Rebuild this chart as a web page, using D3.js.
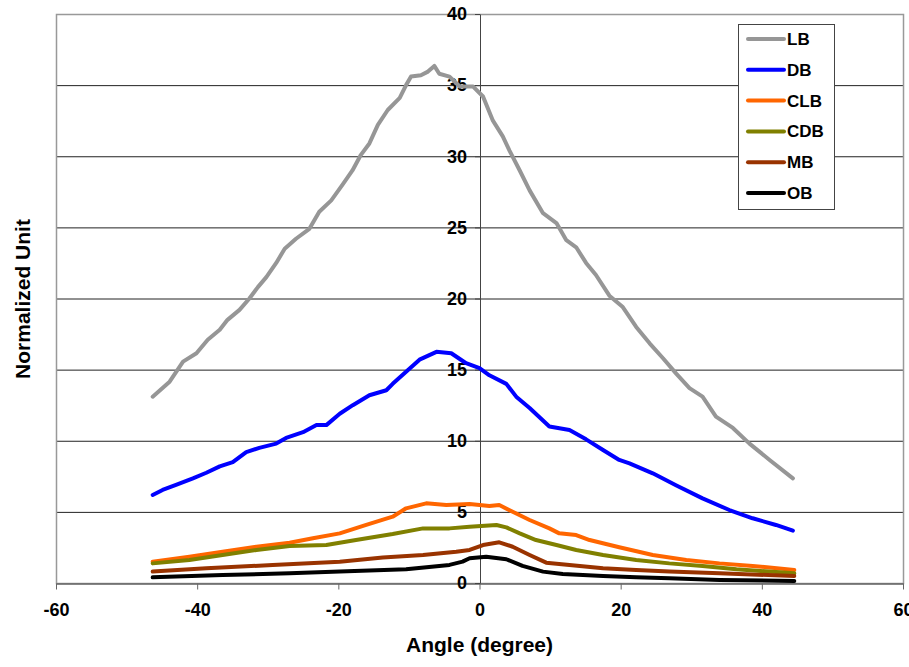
<!DOCTYPE html>
<html>
<head>
<meta charset="utf-8">
<script src="https://cdn.jsdelivr.net/npm/d3@7"></script>
<style>
  body { margin: 0; background: #fff; }
  text { font-family: "Liberation Sans", Arial, sans-serif; font-weight: bold; fill: #000; }
</style>
</head>
<body>
<div id="chart"></div>
<script>
// series names and colours
var seriesNames = ["LB", "DB", "CLB", "CDB", "MB", "OB"];
var seriesColors = ["#969696", "#0000ff", "#ff6600", "#808000", "#993300", "#000000"];

// [angle, value]
var lbData = [[-46.3,13.1],[-43.9,14.15],[-42.0,15.56],[-40.1,16.15],[-38.5,17.1],[-36.8,17.8],[-35.7,18.5],[-34.0,19.2],[-32.6,20.0],[-31.4,20.8],[-30.2,21.5],[-28.8,22.5],[-27.6,23.5],[-26.0,24.2],[-24.1,24.9],[-22.7,26.1],[-21.0,26.9],[-19.4,28.0],[-18.0,29.0],[-16.8,30.1],[-15.6,30.9],[-14.4,32.2],[-13.0,33.25],[-11.3,34.1],[-10.4,35.0],[-9.7,35.6],[-8.3,35.7],[-7.3,35.95],[-6.4,36.35],[-5.7,35.8],[-4.25,35.6],[-2.8,34.9],[-0.9,34.9],[0.5,34.2],[1.9,32.5],[3.3,31.4],[4.25,30.4],[5.7,29.0],[7.1,27.6],[9.0,26.0],[10.9,25.3],[12.3,24.1],[13.7,23.6],[15.1,22.5],[16.5,21.65],[18.4,20.2],[20.3,19.4],[22.2,18.0],[24.1,16.85],[26.0,15.8],[27.9,14.7],[29.75,13.7],[31.6,13.1],[33.5,11.7],[35.9,10.9],[38.25,9.8],[41.1,8.65],[44.4,7.36]];
var dbData = [[-46.3,6.19],[-44.9,6.54],[-43.0,6.9],[-40.6,7.36],[-38.7,7.75],[-36.8,8.2],[-34.95,8.5],[-33.05,9.2],[-31.2,9.5],[-28.8,9.8],[-27.4,10.2],[-25.0,10.6],[-23.1,11.1],[-21.7,11.1],[-19.8,11.9],[-17.95,12.5],[-15.6,13.2],[-13.2,13.55],[-12.3,14.0],[-10.4,14.85],[-8.5,15.7],[-6.1,16.25],[-4.0,16.15],[-1.9,15.45],[0,15.1],[1.4,14.6],[3.8,14.0],[5.2,13.1],[7.1,12.3],[9.9,11.0],[12.75,10.75],[15.1,10.1],[17.5,9.35],[19.8,8.65],[21.25,8.41],[24.55,7.71],[27.9,6.85],[31.6,5.95],[35.4,5.13],[38.7,4.55],[42.0,4.08],[44.4,3.68]];
var clbData = [[-46.3,1.5],[-41.1,1.85],[-36.4,2.2],[-31.6,2.55],[-26.9,2.83],[-23.6,3.14],[-19.8,3.49],[-16.05,4.08],[-12.3,4.66],[-10.4,5.25],[-7.55,5.6],[-4.7,5.48],[-1.4,5.55],[1.4,5.41],[2.8,5.48],[4.7,5.01],[7.1,4.43],[9.9,3.84],[11.3,3.49],[13.7,3.37],[15.6,3.02],[19.8,2.51],[24.55,1.97],[29.3,1.62],[34.0,1.38],[38.7,1.2],[44.6,0.91]];
var cdbData = [[-46.3,1.38],[-41.1,1.62],[-36.4,1.97],[-31.6,2.32],[-26.9,2.6],[-21.7,2.67],[-17.5,3.02],[-12.3,3.44],[-8.0,3.84],[-4.25,3.84],[-1.4,3.96],[2.4,4.08],[3.8,3.91],[5.7,3.49],[8.0,3.02],[10.9,2.67],[13.7,2.32],[17.5,1.97],[22.2,1.62],[26.9,1.38],[31.6,1.2],[36.4,0.96],[44.6,0.68]];
var mbData = [[-46.3,0.8],[-38.7,1.03],[-29.3,1.27],[-19.8,1.5],[-13.7,1.8],[-8.0,1.97],[-3.3,2.2],[-1.4,2.32],[0.5,2.67],[2.8,2.86],[4.7,2.55],[7.1,1.97],[9.45,1.43],[12.75,1.27],[17.5,1.03],[22.2,0.91],[26.9,0.8],[34.0,0.68],[44.6,0.49]];
var obData = [[-46.3,0.4],[-36.4,0.56],[-26.9,0.68],[-19.8,0.8],[-10.4,0.96],[-4.25,1.27],[-2.4,1.5],[-1.4,1.74],[0.95,1.85],[3.8,1.67],[6.1,1.2],[9.0,0.8],[11.8,0.63],[17.5,0.49],[22.2,0.4],[26.9,0.33],[34.0,0.21],[44.6,0.14]];

// tick values
var xTicks = [-60, -40, -20, 0, 20, 40, 60];
var yTicks = [0, 5, 10, 15, 20, 25, 30, 35, 40];

var allSeries = [lbData, dbData, clbData, cdbData, mbData, obData];

var width = 909, height = 667;
var plotLeft = 56, plotRight = 903, plotTop = 14, plotBottom = 583;

var svg = d3.select("#chart")
  .append("svg")
    .attr("width", width)
    .attr("height", height);

var x = d3.scaleLinear().domain([-60, 60]).range([plotLeft, plotRight]);
var y = d3.scaleLinear().domain([0, 40]).range([plotBottom, plotTop]);

// plain hyphen for negatives, like the original
var fmt = function(d) { return String(d); };

// gridlines
svg.append("g")
  .selectAll("line")
  .data(yTicks.filter(function(d) { return d > 0 && d < 40; }))
  .enter().append("line")
    .attr("x1", plotLeft).attr("x2", plotRight)
    .attr("y1", function(d) { return y(d) + 0.5; })
    .attr("y2", function(d) { return y(d) + 0.5; })
    .attr("stroke", "#222")
    .attr("stroke-width", 1);

// plot border
svg.append("rect")
  .attr("x", plotLeft + 0.5).attr("y", plotTop + 0.5)
  .attr("width", plotRight - plotLeft).attr("height", plotBottom - plotTop)
  .attr("fill", "none")
  .attr("stroke", "#999")
  .attr("stroke-width", 1.5);

// x axis
var xAxis = svg.append("g")
  .attr("transform", "translate(0," + (plotBottom + 0.5) + ")")
  .call(d3.axisBottom(x).tickValues(xTicks).tickFormat(fmt).tickSize(6).tickPadding(14).tickSizeOuter(0));
xAxis.select(".domain").attr("stroke", "#666").attr("stroke-width", 1.5);
xAxis.selectAll(".tick line").attr("stroke", "#666");
xAxis.selectAll("text").attr("font-size", 18).attr("font-family", null).attr("fill", "#000");

// y axis at angle 0
var yAxis = svg.append("g")
  .attr("transform", "translate(" + (x(0) + 0.5) + ",0)")
  .call(d3.axisLeft(y).tickValues(yTicks).tickFormat(fmt).tickSize(5).tickPadding(8).tickSizeOuter(0));
yAxis.select(".domain").attr("stroke", "#444");
yAxis.selectAll(".tick line").attr("stroke", "#444");
yAxis.selectAll("text").attr("font-size", 18).attr("font-family", null).attr("fill", "#000");

// series lines
var line = d3.line()
  .x(function(d) { return x(d[0]); })
  .y(function(d) { return y(d[1]); });

svg.append("g")
  .selectAll("path")
  .data(allSeries)
  .enter().append("path")
    .attr("d", line)
    .attr("fill", "none")
    .attr("stroke", function(d, i) { return seriesColors[i]; })
    .attr("stroke-width", 4)
    .attr("stroke-linejoin", "round")
    .attr("stroke-linecap", "round");

// axis titles
svg.append("text")
  .attr("x", x(0))
  .attr("y", 652)
  .attr("text-anchor", "middle")
  .attr("font-size", 21)
  .text("Angle (degree)");

svg.append("text")
  .attr("transform", "translate(30,299) rotate(-90)")
  .attr("text-anchor", "middle")
  .attr("font-size", 21)
  .text("Normalized Unit");

// legend
var legend = svg.append("g").attr("transform", "translate(738,24)");
legend.append("rect")
  .attr("x", 0.5).attr("y", 0.5)
  .attr("width", 96).attr("height", 185)
  .attr("fill", "#fff")
  .attr("stroke", "#444");

var item = legend.selectAll("g.item")
  .data(seriesNames)
  .enter().append("g")
    .attr("class", "item")
    .attr("transform", function(d, i) { return "translate(0," + (15 + i * 30.8) + ")"; });

item.append("line")
  .attr("x1", 10).attr("x2", 46)
  .attr("stroke", function(d, i) { return seriesColors[i]; })
  .attr("stroke-width", 4)
  .attr("stroke-linecap", "round");

item.append("text")
  .attr("x", 49)
  .attr("dy", "0.35em")
  .attr("font-size", 17)
  .text(function(d) { return d; });
</script>
</body>
</html>
